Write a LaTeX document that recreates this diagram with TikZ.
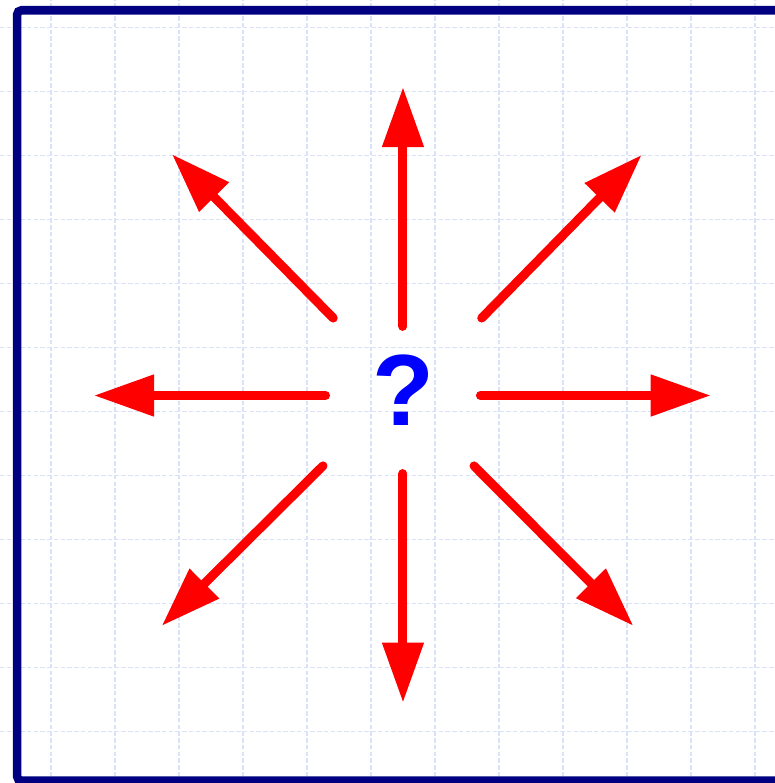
\documentclass[tikz,border=0pt]{standalone}
\usepackage{fontspec}
\setmainfont{Liberation Sans}
\usetikzlibrary{arrows.meta,calc}
\definecolor{framenavy}{RGB}{0,0,128}
\definecolor{gridblue}{RGB}{218,226,250}

\begin{document}
\begin{tikzpicture}[>={Triangle[length=0.94cm,width=0.62cm]},
  ray/.style={->, red, line width=4pt, line cap=round},
  qmark/.style={text=blue, font=\fontsize{45}{54}\selectfont\bfseries, inner sep=0pt}]
  %% page size
  \useasboundingbox (-0.797,-0.805) rectangle (11.3125,11.43);
  \clip (-0.797,-0.805) rectangle (11.3125,11.43);
  %% background grid
  \draw[gridblue, line width=0.5pt, dash pattern=on 2pt off 1pt]
    (-0.797,-0.805) grid (11.3125,11.43);
  %% outer frame
  \draw[framenavy, line width=3.8pt, rounded corners=2pt]
    (-0.53,-0.77) rectangle (11.8,11.27);

  %% centre mark
  \node[qmark] (q) at (5.5,5.34) {?};
  \coordinate (c) at (5.5,5.25);

  %% eight rays
  \foreach \n/\sx/\sy/\ex/\ey in {
      n/0/1.08/0/4.82,       s/0/-1.22/0/-4.8,
      e/1.21/0/4.81/0,       w/-1.21/0/-4.83/0,
      ne/1.23/1.21/3.73/3.76, nw/-1.09/1.21/-3.61/3.77,
      se/1.11/-1.1/3.6/-3.6,  sw/-1.25/-1.1/-3.77/-3.6}{
    \coordinate (s\n) at ($(c)+(\sx,\sy)$);
    \coordinate (e\n) at ($(c)+(\ex,\ey)$);
    \draw[ray] (s\n) -- (e\n);
  }
\end{tikzpicture}
\end{document}
